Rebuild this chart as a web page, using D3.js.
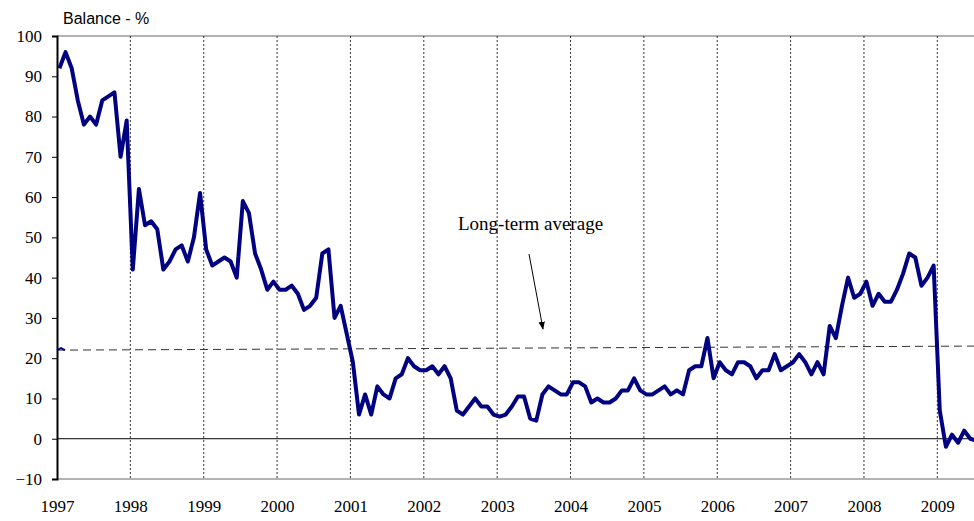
<!DOCTYPE html>
<html><head><meta charset="utf-8">
<script src="https://cdn.jsdelivr.net/npm/d3@7"></script>
<style>body{margin:0;background:#fff}svg{display:block}</style>
</head><body><svg id="c" width="974" height="521"></svg>
<script>
const startYear = 1997;
const yearTicks = [1997,1998,1999,2000,2001,2002,2003,2004,2005,2006,2007,2008,2009];
const yTicks = [-10,0,10,20,30,40,50,60,70,80,90,100];
const balance = [
 92,96,92,84,78,80,78,84,85,86,70,79,
 42,62,53,54,52,42,44,47,48,44,50,61,
 47,43,44,45,44,40,59,56,46,42,37,39,
 37,37,38,36,32,33,35,46,47,30,33,26,
 19,6,11,6,13,11,10,15,16,20,18,17,
 17,18,16,18,15,7,6,8,10,8,8,6,
 5.5,6,8,10.5,10.5,5,4.5,11,13,12,11,11,
 14,14,13,9,10,9,9,10,12,12,15,12,
 11,11,12,13,11,12,11,17,18,18,25,15,
 19,17,16,19,19,18,15,17,17,21,17,18,
 19,21,19,16,19,16,28,25,33,40,35,36,
 39,33,36,34,34,37,41,46,45,38,40,43,
 7,-2,1,-1,2,0,-0.5
];
const avgStart = 22, avgEnd = 23;

const svg = d3.select("#c");
const x = d3.scaleLinear().domain([startYear, startYear + 150/12]).range([57, 974]);
const y = d3.scaleLinear().domain([-10,100]).range([479, 36]);

svg.append("line").attr("x1",57).attr("x2",974).attr("y1",y(100)).attr("y2",y(100)).attr("stroke","#999").attr("stroke-width",1.5);
svg.append("g").selectAll("line").data(yearTicks.slice(1)).join("line")
 .attr("x1",d=>x(d)).attr("x2",d=>x(d)).attr("y1",y(100)).attr("y2",y(-10))
 .attr("stroke","#000").attr("stroke-width",0.8).attr("stroke-dasharray","2,2");
svg.append("line").attr("x1",57).attr("x2",974).attr("y1",y(-10)).attr("y2",y(-10)).attr("stroke","#999").attr("stroke-width",1.5);
const xa = svg.append("g").attr("transform",`translate(0,${y(-10)})`)
 .call(d3.axisBottom(x).tickValues(yearTicks).tickFormat(d3.format("d")).tickSize(0).tickPadding(21));
xa.select(".domain").remove();
xa.selectAll("text").attr("font-family","Liberation Serif").attr("font-size",17).attr("fill","#000");
const ya = svg.append("g").attr("transform","translate(57,0)")
 .call(d3.axisLeft(y).tickValues(yTicks).tickSize(5).tickPadding(10));
ya.select(".domain").attr("stroke","#000").attr("stroke-width",2);
ya.selectAll("text").attr("font-family","Liberation Serif").attr("font-size",17).attr("fill","#000");
svg.append("line").attr("x1",57).attr("x2",974).attr("y1",y(0)).attr("y2",y(0)).attr("stroke","#000").attr("stroke-width",1);
svg.append("line").attr("x1",57).attr("x2",974).attr("y1",y(avgStart)).attr("y2",y(avgEnd))
 .attr("stroke","#333").attr("stroke-width",1).attr("stroke-dasharray","8,5");
svg.append("path").attr("d",`M57,${y(avgStart)} l4,-2 l4,2`).attr("stroke","#000080").attr("stroke-width",2).attr("fill","none");
const line = d3.line().x((d,i)=>x(startYear + (i+0.4)/12)).y(d=>y(d));
svg.append("path").datum(balance).attr("d",line).attr("fill","none")
 .attr("stroke","#000080").attr("stroke-width",4).attr("stroke-linejoin","round");
svg.append("text").attr("x",63).attr("y",24).attr("font-family","Liberation Sans").attr("font-size",16).text("Balance  - %");
svg.append("text").attr("x",458).attr("y",230).attr("font-family","Liberation Serif").attr("font-size",19).text("Long-term average");
svg.append("defs").append("marker").attr("id","ar").attr("viewBox","0 0 10 10").attr("refX",9).attr("refY",5)
 .attr("markerWidth",8).attr("markerHeight",8).attr("orient","auto")
 .append("path").attr("d","M0,1 L10,5 L0,9 z").attr("fill","#000");
svg.append("line").attr("x1",529).attr("y1",254).attr("x2",543).attr("y2",329)
 .attr("stroke","#000").attr("stroke-width",1).attr("marker-end","url(#ar)");
</script></body></html>
